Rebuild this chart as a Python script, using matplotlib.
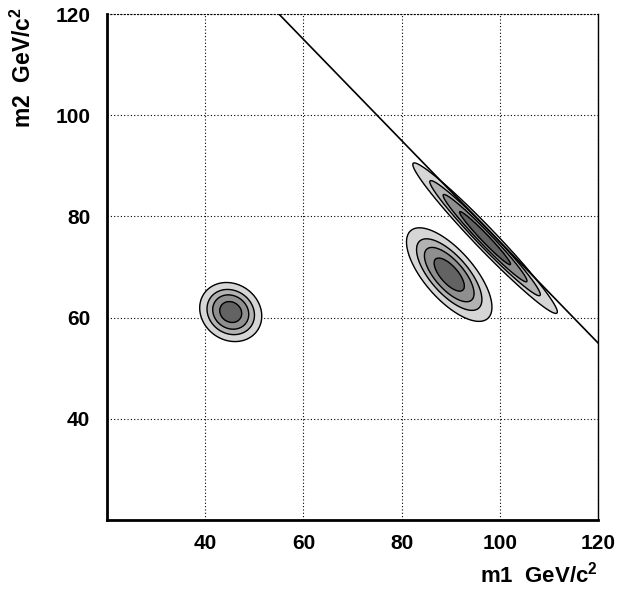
import numpy as np
import matplotlib
matplotlib.use("Agg")
import matplotlib.pyplot as plt

plt.rcParams['font.family'] = ['Liberation Sans', 'DejaVu Sans']
plt.rcParams['font.weight'] = 'bold'
plt.rcParams['mathtext.fontset'] = 'custom'
plt.rcParams['mathtext.bf'] = 'Liberation Sans:bold'
plt.rcParams['mathtext.rm'] = 'Liberation Sans:bold'
plt.rcParams['mathtext.default'] = 'bf'

# Peak parameters (center m1, center m2, sigma major, sigma minor, angle deg)
peak_m1 = [45.2, 89.7, 97.0]
peak_m2 = [61.1, 68.5, 75.7]
peak_sig_major = [3.05, 5.45, 9.7]
peak_sig_minor = [2.6, 2.3, 1.0]
peak_angle = [-30.0, -47.5, -45.3]

# relative contour levels and fill colours
levels = [0.1, 0.26, 0.46, 0.75, 1.01]
fill_colors = ['#d6d6d6', '#b2b2b2', '#8f8f8f', '#636363']

# kinematic limit line m1 + m2 = const
limit_sum = 175.0

x_ticks = [40, 60, 80, 100, 120]
y_ticks = [40, 60, 80, 100, 120]

fig = plt.figure(figsize=(6.17, 5.93), dpi=100)
ax = fig.add_axes([107/617, 1-520/593, (598-107)/617, (520-14)/593])
ax.set_xlim(20, 120)
ax.set_ylim(20, 120)

gx = np.linspace(20, 120, 801)
gy = np.linspace(20, 120, 801)
X, Y = np.meshgrid(gx, gy)
Z = np.zeros_like(X)
for cx, cy, sa, sb, ang in zip(peak_m1, peak_m2, peak_sig_major, peak_sig_minor, peak_angle):
    t = np.deg2rad(ang)
    u = (X - cx) * np.cos(t) + (Y - cy) * np.sin(t)
    v = -(X - cx) * np.sin(t) + (Y - cy) * np.cos(t)
    g = np.exp(-0.5 * ((u / sa) ** 2 + (v / sb) ** 2))
    Z = np.maximum(Z, g)

ax.contourf(X, Y, Z, levels=levels, colors=fill_colors, zorder=2)
ax.contour(X, Y, Z, levels=levels[:-1], colors='black', linewidths=1.0, zorder=3)

lx = np.array([20.0, 120.0])
ax.plot(lx, limit_sum - lx, color='black', lw=1.2, zorder=4)

ax.set_xticks(x_ticks)
ax.set_yticks(y_ticks)
ax.set_xticklabels([str(v) for v in x_ticks], fontsize=15, fontweight='bold')
ax.set_yticklabels([str(v) for v in y_ticks], fontsize=15, fontweight='bold')
ax.tick_params(axis='x', direction='in', length=0, pad=10)
ax.tick_params(axis='y', direction='in', length=0, pad=12)
ax.grid(True, linestyle=(0, (1, 2)), color='black', linewidth=0.8, zorder=1)
ax.set_axisbelow(True)

ax.spines['left'].set_linewidth(2.0)
ax.spines['bottom'].set_linewidth(2.0)
ax.spines['right'].set_linewidth(1.0)
ax.spines['top'].set_linewidth(0.8)
ax.spines['top'].set_linestyle((0, (1, 2)))

fig.text(598/617, 1-583/593, r'm1  GeV/c$^{2}$', ha='right', va='baseline',
         fontsize=16, fontweight='bold')
fig.text(23/617, 1-7/593, r'm2  GeV/c$^{2}$', ha='center', va='top',
         rotation=90, fontsize=16.5, fontweight='bold')

fig.savefig('out.png', dpi=100)
